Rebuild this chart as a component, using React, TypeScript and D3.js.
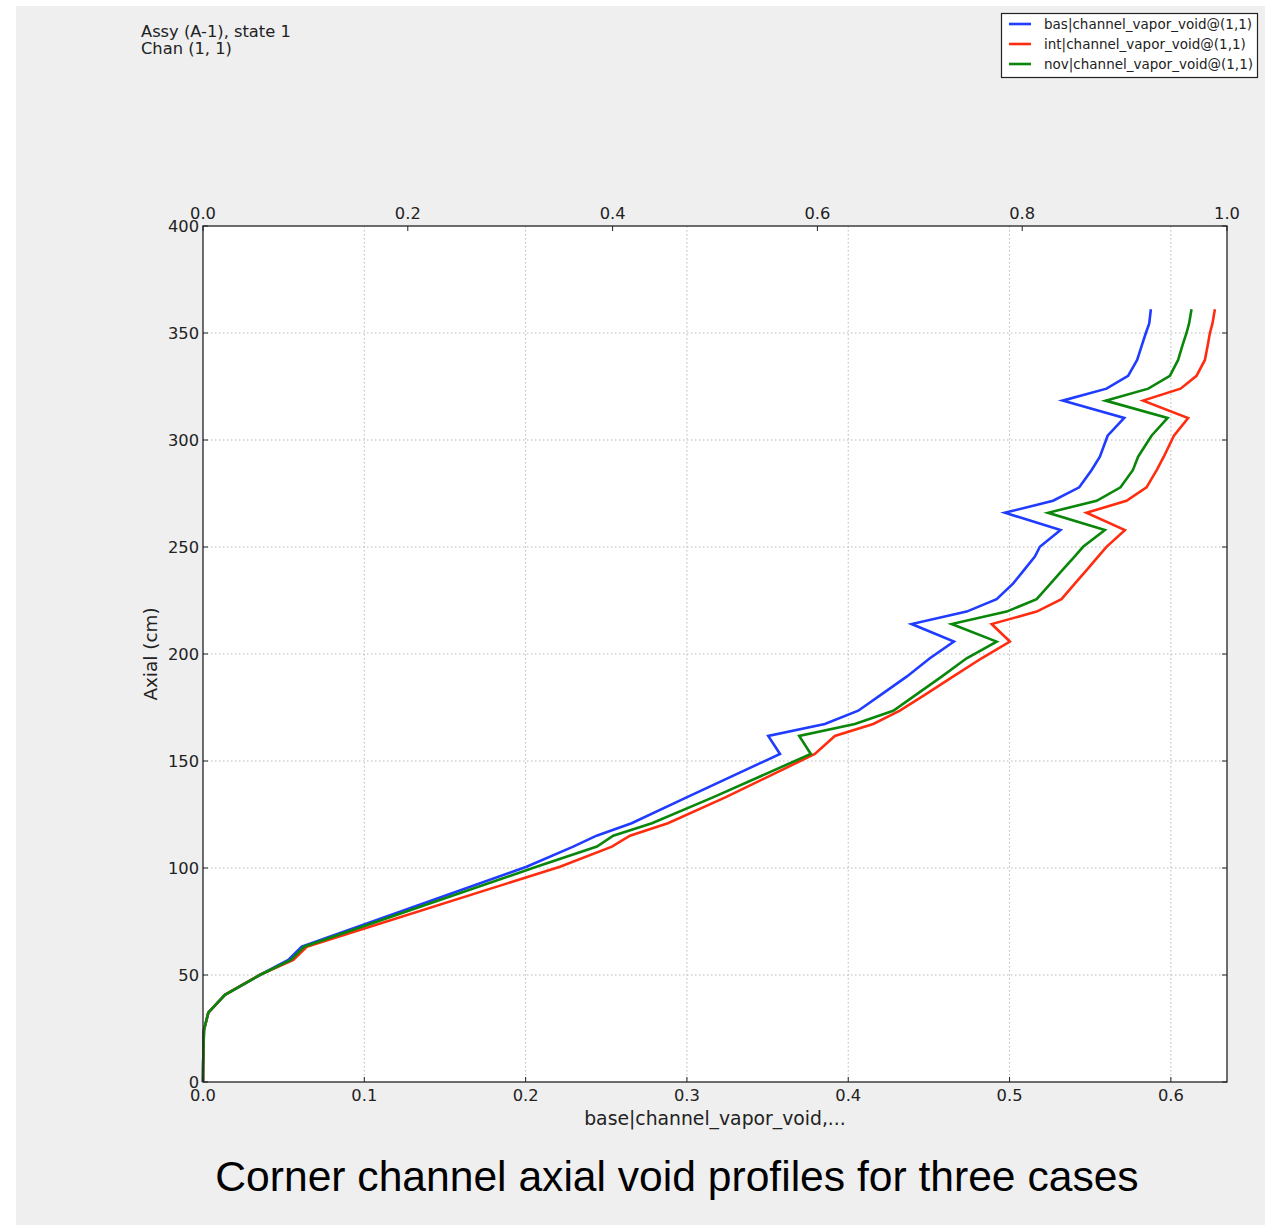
import React from "react";
import * as d3 from "d3";

// Axial node heights (cm)
const axialLevels = [
  0, 8, 16, 24.3, 32.4, 40.7, 50.0, 57.0, 63.2, 100.6, 110.0, 115.1, 120.9, 133.0,
  153.3, 161.7, 167.3, 173.5, 181.0, 189.4, 198.0, 205.8, 214.0, 219.8, 225.6, 233.0,
  240.0, 245.5, 250.1, 257.9, 266.0, 271.6, 277.9, 286.0, 292.2, 302.0, 310.3, 318.4,
  324.0, 330.0, 337.4, 344.0, 350.0, 354.5, 361.1,
];

// Corner channel vapor void fraction at each axial node
const basVoid = [
  0, 0.0001, 0.0003, 0.0006, 0.0033, 0.0136, 0.0353, 0.0529, 0.0612, 0.2006, 0.2295, 0.244,
  0.2657, 0.2998, 0.3577, 0.3504, 0.3855, 0.4062, 0.4204, 0.4362, 0.4506, 0.4655, 0.4393,
  0.4734, 0.492, 0.5023, 0.5098, 0.5157, 0.5188, 0.5316, 0.4971, 0.527, 0.5432, 0.5509,
  0.556, 0.5608, 0.5711, 0.5329, 0.5601, 0.5735, 0.5791, 0.5819, 0.5845, 0.5866, 0.5876,
];
const intVoid = [
  0, 0.0001, 0.0003, 0.0006, 0.0033, 0.0136, 0.035, 0.056, 0.0643, 0.2213, 0.2535, 0.2647,
  0.2882, 0.3238, 0.3793, 0.3917, 0.4155, 0.432, 0.4477, 0.4649, 0.4827, 0.5002, 0.4889,
  0.5168, 0.5322, 0.5406, 0.5487, 0.5549, 0.5601, 0.5715, 0.5477, 0.5725, 0.5849, 0.5913,
  0.5956, 0.6019, 0.6107, 0.5828, 0.606, 0.6159, 0.6211, 0.6228, 0.6242, 0.6258, 0.6273,
];
const novVoid = [
  0, 0.0001, 0.0003, 0.0006, 0.0033, 0.0136, 0.0352, 0.0545, 0.0626, 0.2067, 0.2442, 0.2543,
  0.2783, 0.3161, 0.3768, 0.3696, 0.4041, 0.4279, 0.4421, 0.4579, 0.4734, 0.492, 0.4641,
  0.4982, 0.5168, 0.5255, 0.5337, 0.5403, 0.5456, 0.5591, 0.5239, 0.554, 0.5688, 0.5765,
  0.5797, 0.588, 0.598, 0.5595, 0.586, 0.5994, 0.6045, 0.6071, 0.6097, 0.6113, 0.6128,
];

const seriesNames = [
  "bas|channel_vapor_void@(1,1)",
  "int|channel_vapor_void@(1,1)",
  "nov|channel_vapor_void@(1,1)",
];
const seriesColors = ["#1f3cff", "#ff2d10", "#0a870a"];

const bottomTicks = [0, 0.1, 0.2, 0.3, 0.4, 0.5, 0.6];
const topTicks = [0, 0.2, 0.4, 0.6, 0.8, 1.0];
const leftTicks = [0, 50, 100, 150, 200, 250, 300, 350, 400];

const W = 1273;
const H = 1225;
const plot = { left: 203, right: 1227, top: 226, bottom: 1082 };
const mono = "'DejaVu Sans', sans-serif";
const textColor = "#222";

export default function App() {
  const x = d3.scaleLinear().domain([0, 0.6348]).range([plot.left, plot.right]);
  const xTop = d3.scaleLinear().domain([0, 1]).range([plot.left, plot.right]);
  const y = d3.scaleLinear().domain([0, 400]).range([plot.bottom, plot.top]);

  const series = [basVoid, intVoid, novVoid];
  const line = d3
    .line<number>()
    .x((v) => x(v))
    .y((_, i) => y(axialLevels[i]));

  const tickLen = 5;

  return (
    <svg
      width={W}
      height={H}
      style={{ position: "absolute", left: 0, top: 0 }}
      xmlns="http://www.w3.org/2000/svg"
    >
      <rect x={16} y={6} width={1249} height={H - 6} fill="#efefef" />

      {/* header text */}
      <text x={141} y={37} fontFamily={mono} fontSize={16.3} fill={textColor}>
        Assy (A-1), state 1
      </text>
      <text x={141} y={54} fontFamily={mono} fontSize={16.3} fill={textColor}>
        Chan (1, 1)
      </text>

      {/* plot area */}
      <rect
        x={plot.left}
        y={plot.top}
        width={plot.right - plot.left}
        height={plot.bottom - plot.top}
        fill="#fff"
      />

      {/* grid */}
      <g stroke="#b8b8b8" strokeWidth={1} strokeDasharray="1.5,2.5">
        {bottomTicks.slice(1).map((t) => (
          <line key={"gx" + t} x1={x(t)} x2={x(t)} y1={plot.top} y2={plot.bottom} />
        ))}
        {leftTicks.slice(1, -1).map((t) => (
          <line key={"gy" + t} x1={plot.left} x2={plot.right} y1={y(t)} y2={y(t)} />
        ))}
      </g>

      {/* profiles */}
      <g fill="none" strokeWidth={2.6} strokeLinejoin="miter">
        {series.map((s, k) => (
          <path key={k} d={line(s) || ""} stroke={seriesColors[k]} />
        ))}
      </g>

      {/* ticks */}
      <g stroke="#222" strokeWidth={1}>
        {bottomTicks.map((t) => (
          <line key={"bt" + t} x1={x(t)} x2={x(t)} y1={plot.bottom} y2={plot.bottom - tickLen} />
        ))}
        {topTicks.map((t) => (
          <line key={"tt" + t} x1={xTop(t)} x2={xTop(t)} y1={plot.top} y2={plot.top + tickLen} />
        ))}
        {leftTicks.map((t) => (
          <g key={"lt" + t}>
            <line x1={plot.left} x2={plot.left + tickLen} y1={y(t)} y2={y(t)} />
            <line x1={plot.right} x2={plot.right - tickLen} y1={y(t)} y2={y(t)} />
          </g>
        ))}
      </g>

      {/* frame */}
      <rect
        x={plot.left}
        y={plot.top}
        width={plot.right - plot.left}
        height={plot.bottom - plot.top}
        fill="none"
        stroke="#222"
        strokeWidth={1.3}
      />

      {/* tick labels */}
      <g fontFamily={mono} fontSize={16.3} fill={textColor}>
        {bottomTicks.map((t) => (
          <text key={"bl" + t} x={x(t)} y={plot.bottom + 19} textAnchor="middle">
            {t.toFixed(1)}
          </text>
        ))}
        {topTicks.map((t) => (
          <text key={"tl" + t} x={xTop(t)} y={plot.top - 7} textAnchor="middle">
            {t.toFixed(1)}
          </text>
        ))}
        {leftTicks.map((t) => (
          <text key={"ll" + t} x={plot.left - 4} y={y(t) + 6} textAnchor="end">
            {t}
          </text>
        ))}
      </g>

      {/* axis titles */}
      <text
        x={(plot.left + plot.right) / 2}
        y={1125}
        textAnchor="middle"
        fontFamily={mono}
        fontSize={18.8}
        fill={textColor}
      >
        base|channel_vapor_void,...
      </text>
      <text
        transform={`translate(157, ${(plot.top + plot.bottom) / 2}) rotate(-90)`}
        textAnchor="middle"
        fontFamily={mono}
        fontSize={18.4}
        fill={textColor}
      >
        Axial (cm)
      </text>

      {/* legend */}
      <g>
        <rect x={1001.5} y={13.5} width={256} height={64} fill="#fff" stroke="#222" strokeWidth={1.2} />
        {seriesNames.map((name, i) => (
          <g key={name} transform={`translate(0, ${24 + i * 20})`}>
            <line x1={1009} x2={1031} y1={0} y2={0} stroke={seriesColors[i]} strokeWidth={2.6} />
            <text x={1044} y={5} fontFamily={mono} fontSize={13.5} fill={textColor}>
              {name}
            </text>
          </g>
        ))}
      </g>

      {/* caption */}
      <text
        x={677}
        y={1191}
        textAnchor="middle"
        fontFamily="'Liberation Sans', Arial, sans-serif"
        fontSize={42.6}
        fill="#000"
      >
        Corner channel axial void profiles for three cases
      </text>
    </svg>
  );
}
